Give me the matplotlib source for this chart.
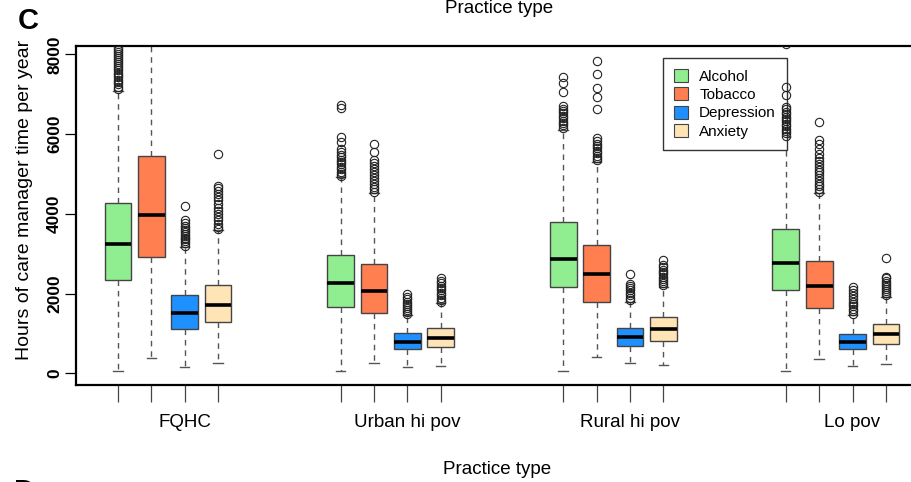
import matplotlib
matplotlib.use("Agg")
import matplotlib.pyplot as plt
from matplotlib.patches import Patch

# Practice types and conditions
groups = ["FQHC", "Urban hi pov", "Rural hi pov", "Lo pov"]
conditions = ["Alcohol", "Tobacco", "Depression", "Anxiety"]
colors = ["#90EE90", "#FF7F50", "#1E90FF", "#FFE4B5"]

# box stats per group, in order Alcohol, Tobacco, Depression, Anxiety
q1 = [[2340, 2925, 1111, 1279],
      [1671, 1520, 602, 652],
      [2173, 1788, 685, 818],
      [2090, 1646, 602, 735]]
med = [[3235, 3970, 1505, 1713],
       [2273, 2064, 785, 885],
       [2875, 2482, 903, 1103],
       [2767, 2190, 777, 977]]
q3 = [[4263, 5450, 1964, 2214],
      [2967, 2733, 1003, 1128],
      [3786, 3210, 1144, 1404],
      [3627, 2817, 977, 1228]]
whislo = [[50, 392, 166, 250],
          [58, 267, 167, 183],
          [58, 418, 250, 208],
          [58, 351, 192, 225]]
whishi = [[7087, 8600, 3160, 3594],
          [4915, 4514, 1462, 1755],
          [6100, 5307, 1797, 2173],
          [5934, 4514, 1462, 1922]]
fliers = [
    [[7120, 7180, 7250, 7300, 7350, 7420, 7480, 7530, 7600, 7650, 7700, 7760, 7820, 7870, 7920, 7960, 8000, 8050, 8100, 8150],
     [],
     [3200, 3260, 3310, 3360, 3400, 3450, 3500, 3550, 3600, 3650, 3700, 3760, 3850, 4200],
     [3620, 3680, 3750, 3850, 3920, 4000, 4080, 4150, 4250, 4350, 4430, 4500, 4580, 4650, 4700, 5500]],
    [[4950, 5000, 5060, 5120, 5180, 5240, 5300, 5360, 5420, 5480, 5550, 5620, 5800, 5930, 6650, 6720],
     [4560, 4620, 4680, 4750, 4820, 4900, 4980, 5050, 5130, 5200, 5280, 5350, 5560, 5740],
     [1500, 1550, 1600, 1650, 1700, 1750, 1800, 1860, 1920, 1990],
     [1800, 1850, 1900, 1960, 2020, 2080, 2140, 2200, 2260, 2320, 2400]],
    [[6150, 6220, 6280, 6340, 6400, 6460, 6520, 6580, 6640, 6700, 7060, 7270, 7440],
     [5340, 5400, 5460, 5520, 5580, 5640, 5700, 5760, 5830, 5900, 6640, 6940, 7150, 7500, 7830],
     [1840, 1900, 1960, 2020, 2080, 2140, 2200, 2250, 2480],
     [2210, 2260, 2310, 2370, 2420, 2480, 2540, 2600, 2660, 2720, 2840]],
    [[5960, 6020, 6080, 6140, 6200, 6260, 6320, 6380, 6440, 6500, 6560, 6620, 6680, 6980, 7190, 8250],
     [4560, 4620, 4690, 4760, 4830, 4900, 4970, 5040, 5110, 5180, 5250, 5320, 5400, 5500, 5620, 5750, 5850, 6310],
     [1500, 1560, 1620, 1680, 1740, 1800, 1870, 1940, 2020, 2100, 2170],
     [1960, 2010, 2060, 2110, 2160, 2210, 2260, 2320, 2380, 2420, 2880]],
]
yticks = [0, 2000, 4000, 6000, 8000]

plt.rcParams['font.family'] = ['Liberation Sans', 'DejaVu Sans']

W, H = 911, 482
fig = plt.figure(figsize=(W / 100, H / 100), dpi=100)
# axes run past the right edge like the cropped original
ax = fig.add_axes([76 / W, 1 - 385 / H, (928 - 76) / W, (385 - 46) / H])

group_gap = 20 / 3
stats, positions, facecolors = [], [], []
for g in range(len(groups)):
    for k in range(len(conditions)):
        stats.append(dict(med=med[g][k], q1=q1[g][k], q3=q3[g][k],
                          whislo=whislo[g][k], whishi=whishi[g][k],
                          fliers=fliers[g][k]))
        positions.append(g * group_gap + k)
        facecolors.append(colors[k])

bp = ax.bxp(stats, positions=positions, widths=0.8, patch_artist=True,
            showfliers=True,
            boxprops=dict(edgecolor="#444444", linewidth=1.0),
            medianprops=dict(color="black", linewidth=2.6),
            whiskerprops=dict(color="#555555", linewidth=1.0, linestyle=(0, (4, 3.5))),
            capprops=dict(color="#555555", linewidth=1.0),
            capwidths=0.28,
            flierprops=dict(marker="o", markersize=6, markerfacecolor="none",
                            markeredgecolor="#222222", markeredgewidth=0.8))
for patch, c in zip(bp["boxes"], facecolors):
    patch.set_facecolor(c)
# outliers sit on top of the legend border, as in the original
for fl in bp["fliers"]:
    fl.set_zorder(6)

ax.set_xlim(-1.257, 24.26)
ax.set_ylim(-293, 8210)

ax.set_yticks(yticks)
ax.set_yticklabels([str(v) for v in yticks], rotation=90, va="center",
                   fontsize=12.5, fontweight="bold")
ax.tick_params(axis="y", length=8, width=0.9, pad=2)

ax.set_xticks(positions)
ax.set_xticklabels([])
ax.tick_params(axis="x", length=12, width=0.9, color="#444444")

for sp in ax.spines.values():
    sp.set_linewidth(1.6)

ax.set_ylabel("Hours of care manager time per year", fontsize=14)
ax.yaxis.set_label_coords((33 - 76) / 852, (385 - 200) / 339)

# group names under the third box of each group
for g, name in enumerate(groups):
    xd = g * group_gap + 2
    xf = fig.transFigure.inverted().transform(ax.transData.transform((xd, 0)))[0]
    fig.text(xf, 1 - 427 / H, name, ha="center", va="baseline", fontsize=13.5)

fig.text(497 / W, 1 - 474 / H, "Practice type", ha="center", va="baseline",
         fontsize=13.5)
fig.text(499 / W, 1 - 13 / H, "Practice type", ha="center", va="baseline",
         fontsize=13.5)
fig.text(28 / W, 1 - 21 / H, "C", ha="center", va="center", fontsize=21,
         fontweight="bold")
# panel letter of the next figure, only its top edge shows in the crop
fig.text(24 / W, 1 - 478 / H, "D", ha="center", va="top", fontsize=21,
         fontweight="bold")

handles = [Patch(facecolor=c, edgecolor="#444444", linewidth=0.8) for c in colors]
leg = ax.legend(handles, conditions, loc="upper left",
                bbox_to_anchor=(663 / W, 1 - 58 / H), bbox_transform=fig.transFigure,
                fancybox=False, framealpha=1, edgecolor="#333333", fontsize=11,
                handlelength=0.9, handleheight=0.9, handletextpad=0.75,
                labelspacing=0.25, borderpad=0.72, borderaxespad=0)
leg.get_frame().set_linewidth(1.0)

fig.savefig("out.png", dpi=100)
